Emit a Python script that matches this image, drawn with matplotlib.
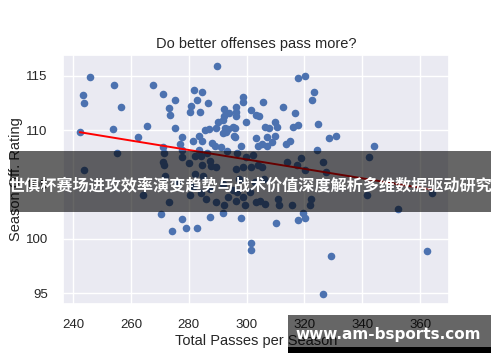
import matplotlib
matplotlib.use("Agg")
import matplotlib.pyplot as plt
import seaborn as sns
import numpy as np
from matplotlib.patches import Rectangle

# ---- data ----
total_passes = [
    242.3, 243.5, 243.9, 246.0, 254.3, 253.9, 256.6, 262.3, 265.4, 267.5,
    271.0, 273.2, 273.4, 275.3, 275.1, 271.0, 277.5, 277.0, 277.7, 281.8,
    284.5, 283.0, 280.3, 280.7, 283.9, 286.7, 281.5, 283.7, 284.5, 283.6,
    285.5, 287.0, 288.1, 288.9, 291.2, 293.2, 289.6, 290.1, 289.3, 292.1,
    293.8, 292.2, 291.7, 292.7, 293.4, 292.0, 293.0, 295.3, 296.0, 295.6,
    296.0, 296.4, 296.4, 296.4, 298.8, 298.6, 299.7, 298.0, 301.5, 303.3,
    304.4, 305.5, 303.4, 304.1, 305.2, 306.5, 307.8, 307.2, 307.2, 308.9,
    309.7, 309.7, 310.6, 312.5, 313.5, 314.9, 316.7, 316.0, 317.7, 317.7,
    320.2, 323.4, 322.6, 324.6, 324.2, 328.6, 330.8, 343.9, 255.3, 271.4,
    286.4, 296.8,
    243.8, 271.1, 271.5, 271.8, 277.6, 280.0, 282.1, 284.5, 284.3, 287.3,
    287.6, 289.4, 282.3, 284.9, 296.5, 298.8, 301.4, 304.0, 305.2, 299.9,
    302.2, 314.0, 317.5, 318.9, 320.1, 326.5, 327.5, 342.3, 341.6, 364.2,
    264.3, 273.0, 280.5, 281.5, 284.2, 286.1, 287.2, 289.4, 292.2, 293.4,
    295.3, 296.8, 296.5, 298.8, 299.4, 301.1, 303.4, 304.5, 306.5, 310.9,
    311.2, 315.8, 322.1, 322.0, 297.5, 303.0, 306.0, 292.0, 276.0,
    270.4, 277.6, 274.1, 279.1, 287.4, 283.0, 291.8, 297.9, 301.5, 301.4,
    310.3, 317.7, 319.5, 320.1, 326.3, 329.3, 352.3, 362.4,
]
off_rating = [
    109.8, 113.2, 112.5, 114.9, 114.1, 110.1, 112.1, 109.4, 110.4, 114.1,
    113.3, 112.0, 111.4, 112.8, 110.2, 108.4, 109.4, 108.7, 108.2, 113.7,
    113.5, 112.8, 111.7, 112.2, 111.7, 112.5, 109.0, 109.5, 109.0, 108.2,
    110.0, 110.1, 108.8, 108.5, 108.4, 108.1, 115.9, 110.7, 110.2, 111.9,
    111.6, 111.3, 110.9, 110.2, 110.1, 109.7, 109.8, 110.3, 110.2, 109.5,
    109.4, 112.1, 111.7, 111.3, 113.0, 112.6, 110.7, 108.5, 111.8, 111.4,
    111.3, 112.6, 109.3, 108.5, 108.7, 110.3, 110.2, 109.4, 108.5, 108.9,
    109.5, 110.7, 110.3, 112.1, 108.7, 109.0, 111.6, 110.3, 110.5, 114.8,
    115.0, 113.5, 112.8, 110.6, 108.2, 109.3, 109.5, 108.5, 107.9, 107.9,
    107.9, 107.9,
    106.3, 107.05, 106.75, 105.8, 107.5, 107.0, 107.6, 106.75, 107.6, 107.2,
    106.7, 106.65, 106.0, 105.8, 106.45, 106.6, 106.6, 106.75, 106.6, 107.5,
    107.7, 107.05, 106.75, 107.4, 106.35, 107.05, 106.1, 107.5, 104.0, 104.2,
    104.0, 103.4, 104.0, 104.75, 104.2, 103.7, 104.6, 103.4, 103.1, 103.8,
    104.5, 104.3, 103.5, 103.8, 103.1, 104.3, 103.4, 103.5, 103.2, 103.7,
    103.1, 103.1, 103.7, 103.1, 105.5, 105.2, 105.5, 105.0, 105.2,
    102.3, 101.8, 100.7, 101.0, 102.0, 101.0, 102.4, 101.9, 99.6, 99.0,
    101.5, 101.7, 102.4, 101.9, 94.9, 98.4, 102.7, 98.9,
]
fit_slope = -0.0434
fit_intercept = 120.32

x_ticks = [240, 260, 280, 300, 320, 340, 360]
y_ticks = [95, 100, 105, 110, 115]

title = "Do better offenses pass more?"
x_label = "Total Passes per Season"
y_label = "Season Off. Rating"
banner_text = "世俱杯赛场进攻效率演变趋势与战术价值深度解析多维数据驱动研究"
watermark_text = "www.am-bsports.com"

# ---- drawing ----
sns.set_theme(style="darkgrid")
plt.rcParams["font.family"] = ["Liberation Sans", "DejaVu Sans"]

fig = plt.figure(figsize=(5.0, 3.62), dpi=100)
ax = fig.add_axes([0.126, 0.160, 0.772, 0.688])

x = np.array(total_passes)
y = np.array(off_rating)
ax.scatter(x, y, s=30, color="#4c72b0", linewidths=0, zorder=3)

lx = np.array([x.min(), x.max()])
ax.plot(lx, fit_intercept + fit_slope * lx, color="red", lw=1.4, zorder=4)

ax.set_xlim(236.5, 370)
ax.set_ylim(94.0, 116.9)
ax.set_xticks(x_ticks)
ax.set_yticks(y_ticks)
ax.tick_params(labelsize=9.5, colors="#262626", pad=5)
ax.set_title(title, fontsize=10.5, color="#262626", pad=5)
ax.set_xlabel(x_label, fontsize=10.5, color="#262626", labelpad=2)
ax.set_ylabel(y_label, fontsize=10.5, color="#262626", labelpad=2)

# overlay banner
fig.patches.append(Rectangle((0.02, 0.414), 0.962, 0.169, transform=fig.transFigure,
                             facecolor="black", alpha=0.6, edgecolor="none", zorder=10))
fig.text(0.501, 0.4876, banner_text, ha="center", va="center", color="white",
         fontsize=11.6, fontweight="bold",
         family=["Noto Sans CJK SC", "DejaVu Sans"], zorder=11)

# watermark
fig.patches.append(Rectangle((0.576, 0.0414), 0.406, 0.0884, transform=fig.transFigure,
                             facecolor="black", alpha=0.6, edgecolor="none", zorder=10))
fig.patches.append(Rectangle((0.576, 0.0249), 0.406, 0.0166, transform=fig.transFigure,
                             facecolor="black", alpha=1.0, edgecolor="none", zorder=10))
fig.text(0.776, 0.0746, watermark_text, ha="center", va="center", color="white",
         fontsize=11, fontweight="bold", family=["DejaVu Sans"], zorder=11)

fig.savefig("out.png", dpi=100)
